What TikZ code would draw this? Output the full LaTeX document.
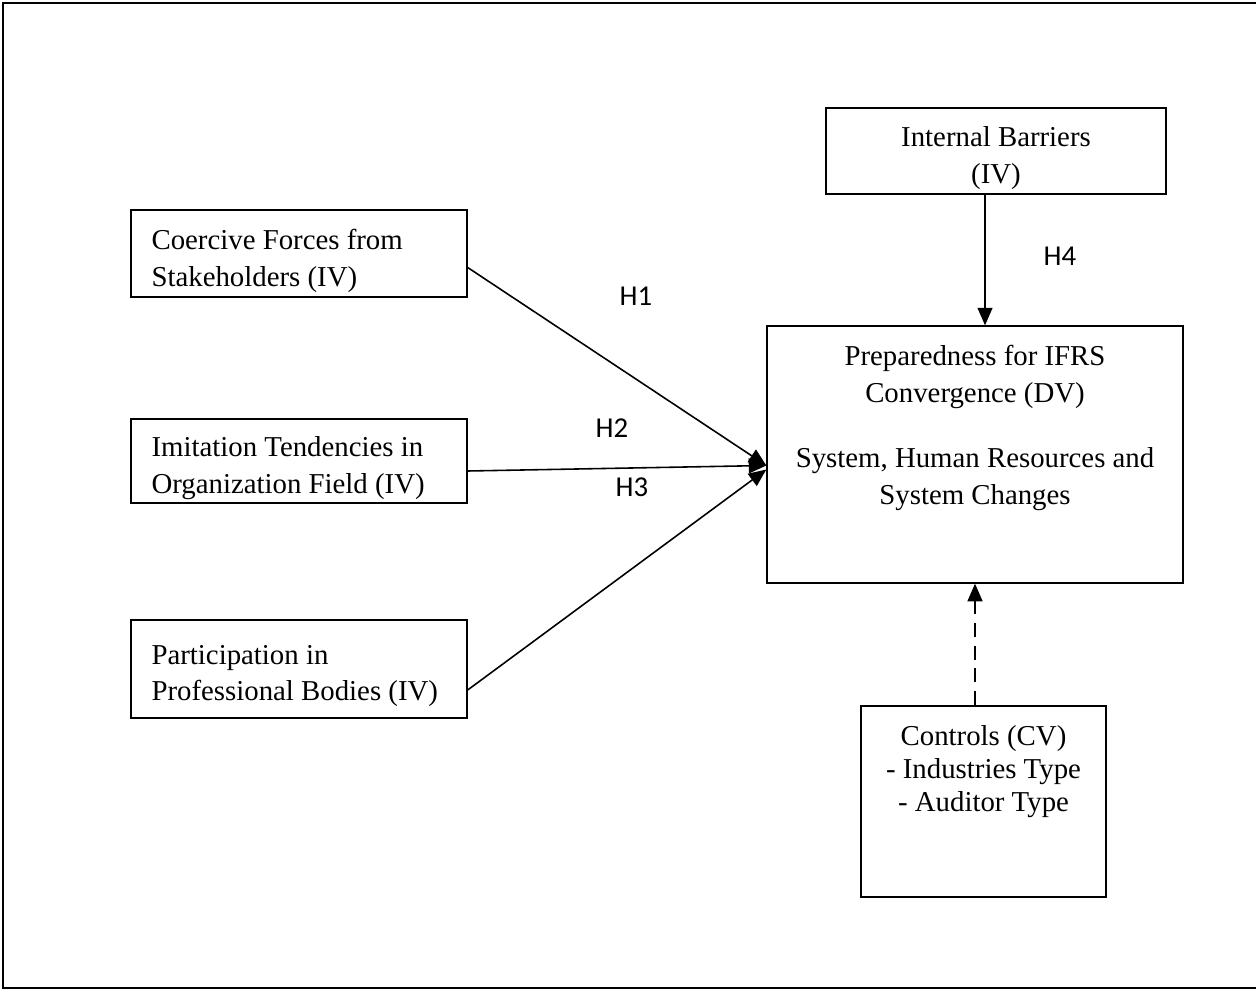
\documentclass[tikz,border=0pt]{standalone}
\usepackage{fontspec}
\setmainfont{Liberation Serif}
\newfontfamily\hfont{Carlito}
\usetikzlibrary{positioning,arrows.meta}

\begin{document}
\begin{tikzpicture}[
        x=0.02cm, y=-0.02cm,
        every node/.style={font=\fontsize{16.4}{21}\selectfont},
        box/.style={draw, line width=0.8pt},
        ivtext/.style={text width=5.9cm, inner xsep=0pt, align=flush left},
        ctext/.style={align=center},
        hlabel/.style={font=\hfont\fontsize{16.4}{21}\selectfont},
        link/.style={line width=0.9pt, -{Triangle[length=10pt,width=8.5pt]}}
    ]
    \useasboundingbox (0,0) rectangle (1256,990);
    \draw[line width=1.3pt] (3,3) rectangle (1270,988);

    % independent variables
    \node[box, minimum width=6.72cm, minimum height=1.74cm] (coercive) at (299,253.5) {};
    \node[ivtext] (coercivetext) at ([yshift=-0.14cm]coercive.center) {Coercive Forces from\\Stakeholders (IV)};
    \node[box, minimum width=6.72cm, minimum height=1.68cm] (imitation) at (299,461) {};
    \node[ivtext] (imitationtext) at ([yshift=-0.14cm]imitation.center) {Imitation Tendencies in\\Organization Field (IV)};
    \node[box, minimum width=6.72cm, minimum height=1.96cm] (participation) at (299,669) {};
    \node[ivtext] (participationtext) at ([yshift=-0.14cm]participation.center) {Participation in\\Professional Bodies (IV)};

    \node[box, minimum width=6.8cm, minimum height=1.72cm] (internal) at (996,151) {};
    \node[ctext] (internaltext) at ([yshift=-0.14cm]internal.center) {Internal Barriers\\(IV)};

    % dependent variable and controls
    \node[box, minimum width=8.32cm, minimum height=5.14cm] (prep) at (975,454.5) {};
    \node[ctext, anchor=north] (preptext) at ([yshift=-0.28cm]prep.north)
        {Preparedness for IFRS\\Convergence (DV)\\[16pt]System, Human Resources and\\System Changes};
    \node[box, minimum width=4.9cm, minimum height=3.82cm] (controls) at (983.5,801.5) {};
    \node[ctext, anchor=north, font=\fontsize{16.4}{18.7}\selectfont] (controlstext) at ([yshift=-0.28cm]controls.north)
        {Controls (CV)\\- Industries Type\\- Auditor Type};

    \draw[link] ([yshift=-0.28cm]coercive.east) -- ([yshift=-0.22cm]prep.west);
    \draw[link] ([yshift=-0.2cm]imitation.east) -- ([yshift=-0.22cm]prep.west);
    \draw[link] ([yshift=-0.42cm]participation.east) -- ([yshift=-0.3cm]prep.west);
    \draw[link] ([xshift=-0.22cm]internal.south) -- ([xshift=-0.22cm]internal.south |- prep.north);
    \draw[link, dash pattern=on 8pt off 5pt] (prep.south |- controls.north) -- (prep.south);

    \node[hlabel] (h1) at (636,296) {H1};
    \node[hlabel] (h2) at (612,428) {H2};
    \node[hlabel] (h3) at (632,487) {H3};
    \node[hlabel] (h4) at (1060,256) {H4};
\end{tikzpicture}
\end{document}
